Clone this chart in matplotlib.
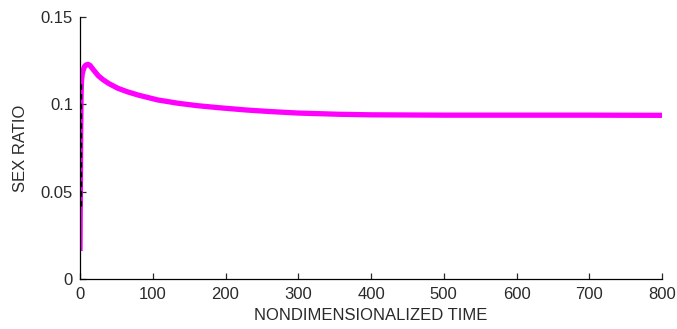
import matplotlib
matplotlib.use("Agg")
import matplotlib.pyplot as plt

plt.rcParams['font.family'] = ['Liberation Sans', 'DejaVu Sans']

time = [0, 0.5, 1, 1.5, 2, 3, 4, 6, 8, 11, 14, 18, 25, 32, 40, 52, 65, 80, 107,
        135, 162, 190, 227, 260, 300, 357, 400, 500, 600, 700, 800]
sex_ratio = [0.016, 0.050, 0.085, 0.105, 0.113, 0.117, 0.119, 0.1215, 0.1225, 0.1229,
             0.1222, 0.1200, 0.1164, 0.1140, 0.1118, 0.1092, 0.1072, 0.1053, 0.1025,
             0.1006, 0.0992, 0.0981, 0.0968, 0.0959, 0.0950, 0.0943, 0.0940, 0.0938,
             0.0938, 0.0938, 0.0937]

dash_time = [1.5, 1.5]
dash_ratio = [0.042, 0.112]

xticks = [0, 100, 200, 300, 400, 500, 600, 700, 800]
yticks = [0, 0.05, 0.1, 0.15]
ytick_labels = ['0', '0.05', '0.1', '0.15']

fig = plt.figure(figsize=(6.77, 3.29), dpi=100)
ax = fig.add_axes([80/677, 1-279/329, (662-80)/677, (279-17)/329])

ax.plot(time, sex_ratio, color='#ff00ff', lw=3.8, solid_capstyle='butt')
ax.plot(dash_time, dash_ratio, color='black', lw=1.0, ls=(0, (4, 3)))

ax.set_xlim(0, 800)
ax.set_ylim(0, 0.15)
ax.set_xticks(xticks)
ax.set_yticks(yticks)
ax.set_yticklabels(ytick_labels)
for s in ['top', 'right']:
    ax.spines[s].set_visible(False)
for s in ['left', 'bottom']:
    ax.spines[s].set_linewidth(0.9)
ax.tick_params(direction='in', length=4, width=0.9, labelsize=12, colors='#2a2a2a')
ax.tick_params(axis='x', pad=6)
ax.tick_params(axis='y', pad=5)
ax.set_xlabel('NONDIMENSIONALIZED TIME', fontsize=12, color='#2a2a2a', labelpad=4)
ax.set_ylabel('SEX RATIO', fontsize=12, color='#2a2a2a', labelpad=9)

fig.savefig('out.png', dpi=100)
